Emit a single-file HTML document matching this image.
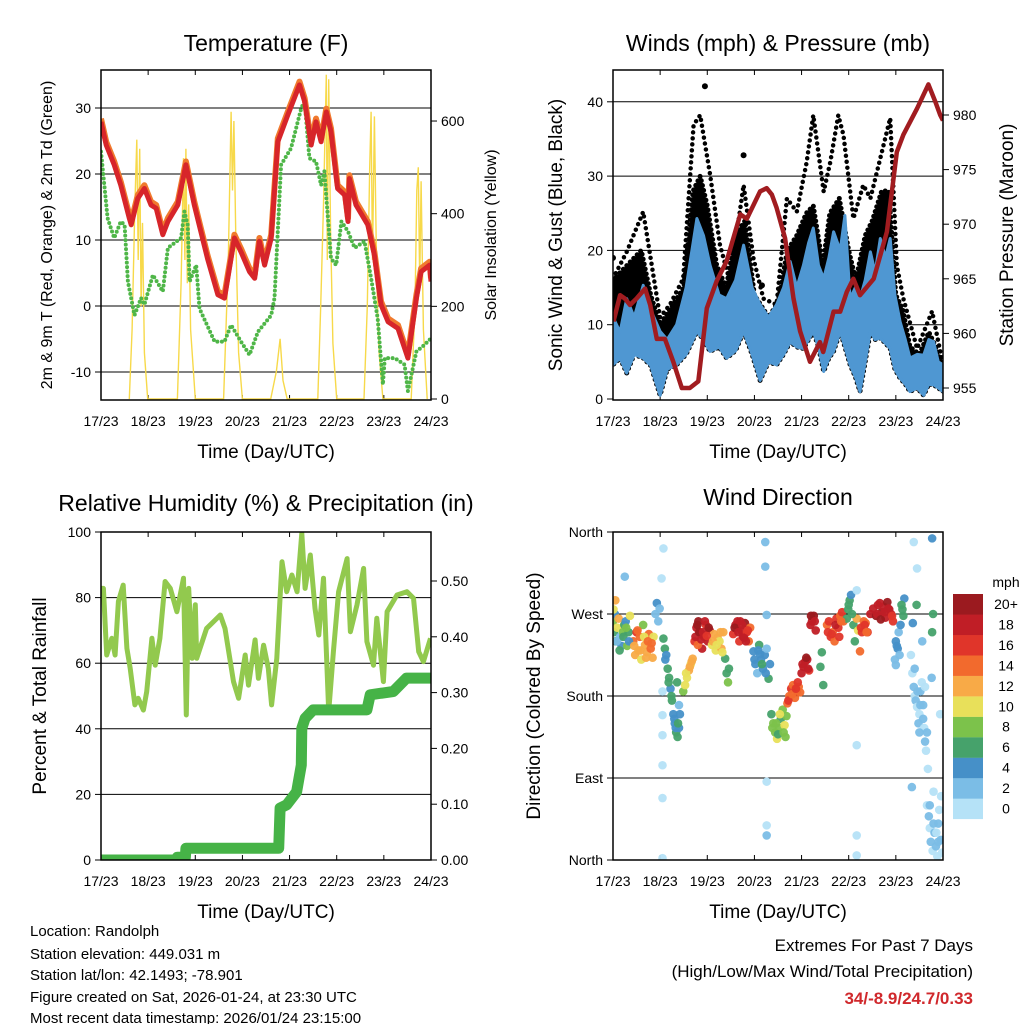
<!DOCTYPE html>
<html><head><meta charset="utf-8"><style>
body{margin:0;background:#fff}
svg{display:block;font-family:"Liberation Sans",Arial,sans-serif}
</style></head><body>
<svg id="s" width="1024" height="1024" viewBox="0 0 1024 1024">
<defs>
<clipPath id="c1"><rect x="101" y="70" width="330" height="330"/></clipPath>
<clipPath id="c2"><rect x="613" y="70" width="330" height="330"/></clipPath>
<clipPath id="c3"><rect x="101" y="532" width="330" height="328"/></clipPath>
<clipPath id="c4"><rect x="613" y="532" width="330" height="328"/></clipPath>
</defs>
<g font-size="23" text-anchor="middle" fill="#000">
<text x="266" y="51">Temperature (F)</text>
<text x="778" y="51">Winds (mph) &amp; Pressure (mb)</text>
<text x="266" y="511">Relative Humidity (%) &amp; Precipitation (in)</text>
<text x="778" y="505">Wind Direction</text>
</g>
<g font-size="19" text-anchor="middle">
<text x="266" y="458">Time (Day/UTC)</text>
<text x="778" y="458">Time (Day/UTC)</text>
<text x="266" y="918">Time (Day/UTC)</text>
<text x="778" y="918">Time (Day/UTC)</text>
<text transform="translate(52,235) rotate(-90)" font-size="16">2m &amp; 9m T (Red, Orange) &amp; 2m Td (Green)</text>
<text transform="translate(496,235) rotate(-90)" font-size="16">Solar Insolation (Yellow)</text>
<text transform="translate(562,235) rotate(-90)">Sonic Wind &amp; Gust (Blue, Black)</text>
<text transform="translate(1013,235) rotate(-90)">Station Pressure (Maroon)</text>
<text transform="translate(46,696) rotate(-90)">Percent &amp; Total Rainfall</text>
<text transform="translate(540,696) rotate(-90)">Direction (Colored By Speed)</text>
</g>
<g font-size="15">
<text x="30" y="936">Location: Randolph</text>
<text x="30" y="959">Station elevation: 449.031 m</text>
<text x="30" y="980">Station lat/lon: 42.1493; -78.901</text>
<text x="30" y="1002">Figure created on Sat, 2026-01-24, at 23:30 UTC</text>
<text x="30" y="1023">Most recent data timestamp: 2026/01/24 23:15:00</text>
</g>
<g font-size="17" text-anchor="end">
<text x="973" y="951">Extremes For Past 7 Days</text>
<text x="973" y="977">(High/Low/Max Wind/Total Precipitation)</text>
<text x="973" y="1004" fill="#d0282c" font-weight="bold">34/-8.9/24.7/0.33</text>
</g>
<g id="charts"></g>
</svg>
<script>
const dayLabels=["17/23","18/23","19/23","20/23","21/23","22/23","23/23","24/23"];
const tempTicks=[-10,0,10,20,30];
const solarTicks=[0,200,400,600];
const windTicks=[0,10,20,30,40];
const presTicks=[955,960,965,970,975,980];
const rhTicks=[0,20,40,60,80,100];
const rainTicks=[0,0.1,0.2,0.3,0.4,0.5];
const dirTicks=[0,90,180,270,360];
const dirLabels=["North","East","South","West","North"];
const tT=[0,0.11,0.28,0.42,0.60,0.64,0.78,0.92,1.06,1.17,1.31,1.42,1.63,1.80,1.98,2.26,2.48,2.62,2.83,2.97,3.15,3.26,3.36,3.47,3.61,3.75,3.96,4.21,4.32,4.46,4.56,4.67,4.78,4.88,5.02,5.17,5.24,5.27,5.41,5.66,5.80,5.94,6.09,6.30,6.51,6.69,6.79,6.97,7.0];
const tRed=[27.9,24.4,21.4,18.3,13.3,12.3,16.3,17.8,15.3,14.8,10.8,12.8,15.3,21.4,15.3,7.2,1.7,1.2,10.3,8.2,5.2,4.2,9.8,6.2,10.3,24.9,28.9,33.5,31.0,24.4,27.9,24.9,29.4,26.4,17.8,16.8,12.8,19.3,15.3,12.3,7.7,0.2,-2.4,-3.4,-7.9,1.2,5.2,6.2,3.7];
const tdT=[0,0.14,0.28,0.42,0.50,0.57,0.71,0.85,0.92,1.10,1.31,1.42,1.70,1.77,1.84,1.88,2.02,2.09,2.41,2.62,2.76,2.97,3.15,3.33,3.61,3.68,3.82,4.03,4.25,4.32,4.42,4.56,4.67,4.74,4.88,4.99,5.10,5.24,5.38,5.59,5.73,5.87,5.98,6.02,6.23,6.44,6.51,6.69,6.86,7.0];
const tdV=[23.4,13.3,10.3,12.8,12.3,3.7,-1.4,1.2,0.2,4.7,2.2,8.8,10.3,14.3,12.3,3.7,6.2,-0.4,-5.4,-5.4,-2.9,-5.4,-7.4,-3.9,-1.4,1.2,21.4,23.9,30.0,31.0,22.4,21.9,18.3,20.4,7.2,6.2,12.8,11.3,8.8,9.8,4.2,-1.9,-11.9,-7.9,-7.9,-8.9,-12.9,-6.9,-5.9,-4.9];
const solT=[0.60,0.66,0.72,0.76,0.79,0.82,0.85,0.88,0.92,0.99,1.62,1.70,1.75,1.78,1.80,1.83,1.86,1.90,2.0,2.60,2.70,2.76,2.79,2.82,2.86,2.92,3.0,3.60,3.72,3.80,3.86,3.95,4.60,4.66,4.72,4.78,4.80,4.83,4.87,4.92,5.0,5.58,5.65,5.70,5.73,5.76,5.80,5.85,5.90,5.98,6.58,6.66,6.70,6.73,6.76,6.79,6.84,6.92];
const solV=[0,150,420,560,300,540,200,380,100,0,0,250,520,300,540,250,420,150,0,0,300,620,450,600,350,100,0,0,60,130,40,0,0,200,420,700,300,690,360,120,0,0,200,500,620,300,610,250,100,0,0,200,450,500,250,470,150,0];
const pT=[0.01,0.15,0.25,0.36,0.50,0.68,0.79,0.93,1.10,1.28,1.46,1.63,1.81,1.99,2.20,2.41,2.70,2.84,3.12,3.26,3.37,3.47,3.65,3.83,3.97,4.18,4.39,4.46,4.68,4.82,4.96,5.10,5.24,5.53,5.81,6.02,6.16,6.45,6.69,6.84,6.94,7.0];
const pV=[961.1,963.5,963.2,962.6,963.2,964.1,962.6,959.5,959.5,957.4,955.0,955.0,955.6,962.3,964.8,966.6,970.9,970.5,973.0,973.3,972.7,971.5,968.7,963.2,960.2,957.4,959.2,958.3,962.0,962.0,963.8,965.0,963.5,965.0,969.3,976.6,978.2,980.6,982.8,981.2,980.0,979.5];
const wT=[0,0.15,0.29,0.45,0.64,0.8,1.0,1.15,1.35,1.55,1.78,1.92,2.06,2.25,2.41,2.6,2.77,2.95,3.12,3.3,3.47,3.62,3.76,3.9,4.04,4.15,4.25,4.36,4.47,4.58,4.68,4.82,4.92,5.03,5.14,5.24,5.35,5.46,5.56,5.67,5.78,5.88,5.98,6.09,6.2,6.30,6.45,6.59,6.70,6.80,6.9,7.0];
const wLow=[4.6,5.5,3.5,6,5.5,4.5,0.5,4,4.6,6,9.1,8,6.4,7,5.5,6.5,9.1,6,2.5,5,4.6,6,7.7,7,6.8,8,9.1,7,3.7,5.5,6.4,9.1,7,4.6,3,1,5,9.1,8,8.2,7.5,6.8,4,2.8,2,1,1.5,0.5,2,1.9,1.5,1.0];
const wHigh=[11.0,9,13.5,11,15.3,12,9.1,8,10.0,15,24.3,22,18.0,14,13.5,16,20.7,15,12.7,11,12.7,15,18.5,15,18.0,21,23.0,18,16.2,19,22.5,20,24.7,13.5,15,13.5,16,19.8,17,21.6,19,21.6,14,10.4,8,5.5,6,5.9,8,7.7,5,4.6];
const gmT=[0,0.3,0.6,0.8,1.0,1.3,1.5,1.7,1.85,2.0,2.2,2.4,2.6,2.8,3.0,3.3,3.5,3.7,3.9,4.1,4.25,4.45,4.6,4.8,5.0,5.15,5.35,5.5,5.7,5.85,6.0,6.15,6.3,6.5,6.7,6.85,7.0];
const gMid=[16,18,20,14,10,13,15,28,30,26,18,15,22,24,14,11,13,20,22,25,26,18,25,27,20,16,22,24,28,28,14,12,7,6,9,7,4];
const gT=[0,0.29,0.64,1.0,1.21,1.49,1.71,1.85,2.06,2.27,2.48,2.77,2.98,3.19,3.47,3.69,3.90,4.11,4.25,4.47,4.61,4.78,4.89,5.10,5.31,5.46,5.74,5.88,6.02,6.16,6.45,6.77,7.0];
const gTop=[16.2,19.8,25.2,11.0,12.7,16.2,36.9,38.2,30.2,20.7,15.8,28.8,18.9,13.5,12.7,27.0,25.2,31.9,38.2,27.9,31.9,38.2,35.5,24.3,28.8,27.0,34.2,37.8,18.0,13.5,6.8,11.8,4.6];
const gOutT=[1.95,2.77,3.16,0.0];
const gOutV=[42.1,32.8,15.3,19];
const rhT=[0,0.05,0.12,0.23,0.30,0.37,0.47,0.55,0.62,0.72,0.79,0.90,0.97,1.08,1.15,1.25,1.36,1.47,1.61,1.75,1.81,1.86,1.93,2.00,2.03,2.24,2.39,2.53,2.63,2.81,2.92,3.06,3.13,3.27,3.34,3.45,3.55,3.62,3.73,3.84,3.94,4.05,4.16,4.26,4.33,4.44,4.54,4.62,4.72,4.83,4.93,5.04,5.22,5.29,5.43,5.57,5.64,5.78,5.85,5.99,6.07,6.28,6.49,6.63,6.74,6.84,6.99];
const rhV=[82.8,82.8,62.5,67.6,62.5,78.8,83.8,64.5,58.4,47.3,49.3,45.7,51.3,67.6,59.4,67.6,84.9,82.8,75.7,85.9,44.2,82.8,61.5,77.8,61.5,70.6,72.7,74.7,70.6,54.4,49.3,62.5,53.3,67.1,55.4,65.5,58.4,47.3,61.5,90.9,81.8,86.9,81.8,99.6,82.8,93.0,76.7,68.6,85.9,45.2,63.5,81.8,91.9,69.6,77.8,88.9,66.6,59.4,73.7,54.4,75.7,80.8,81.8,79.8,63.5,60.5,67.6];
const rainT=[0,1.60,1.62,1.79,1.80,3.77,3.80,3.94,4.15,4.25,4.26,4.33,4.50,5.64,5.71,6.20,6.48,7.0];
const rainV=[0,0,0.005,0.005,0.021,0.021,0.093,0.099,0.122,0.17,0.236,0.254,0.269,0.269,0.296,0.302,0.326,0.326];
const wdT=[0,0.02,0.04,0.06,0.09,0.12,0.15,0.18,0.21,0.24,0.27,0.30,0.33,0.36,0.25,
0.43,0.47,0.50,0.54,0.57,0.60,0.64,0.68,0.72,0.76,0.80,0.84,0.86,
0.90,0.93,0.96,0.99,
1.07,1.10,1.13,1.16,1.19,1.22,1.25,1.28,1.31,1.34,1.37,1.40,1.42,1.40,1.36,
1.49,1.53,1.57,1.61,1.65,1.69,
1.73,1.77,1.81,1.85,1.89,1.93,1.97,2.01,2.05,1.80,1.88,1.95,
2.10,2.14,2.18,2.22,2.26,2.30,2.34,
2.38,2.41,2.44,2.46,
2.55,2.60,2.64,2.68,2.72,2.76,2.80,2.84,2.88,2.91,2.70,2.78,
2.98,3.02,3.06,3.10,3.14,3.18,3.22,3.26,3.30,3.33,3.12,
3.36,3.40,3.44,3.48,3.52,3.56,3.60,3.64,3.68,3.50,
3.70,3.74,3.78,3.82,3.86,3.90,3.94,3.97,
4.00,4.04,4.08,4.12,4.16,4.19,4.22,4.26,4.30,
4.40,4.43,4.46,
4.54,4.58,4.62,4.66,4.70,4.74,4.78,4.82,4.86,4.89,
4.96,4.99,5.02,5.05,5.10,5.13,5.17,5.20,
5.24,5.28,5.32,5.36,5.40,
5.46,5.52,5.58,5.62,5.66,5.70,5.74,5.78,5.82,5.86,5.90,5.94,
5.98,6.02,6.06,6.10,6.00,6.04,6.16,6.18,6.14,
6.32,6.35,6.38,6.40,6.42,6.45,6.48,6.50,6.52,6.55,6.58,6.60,6.62,6.64,6.66,6.70,6.72,6.74,6.78,6.80,6.82,6.85,6.88,6.90,6.92,6.95,6.98,6.36,6.44,6.56,6.68,6.76,6.94,6.34,6.50,6.62,6.86,6.77,6.79,
1.07,1.03,1.05,1.05,1.05,1.05,1.05,1.05,3.23,3.23,3.26,3.26,3.26,3.26,5.17,5.17,5.17,5.17,6.38,6.77,6.45,
0.01,0.05,0.08,0.14,0.22,0.28,0.34,0.45,0.52,0.58,0.66,0.70,0.74,0.82,1.11,1.18,1.24,1.30,1.33,1.38,1.55,1.63,1.67,1.75,1.79,1.83,1.87,1.91,1.99,2.03,2.12,2.20,2.28,2.32,2.58,2.66,2.74,2.82,2.86,3.00,3.08,3.16,3.24,3.38,3.46,3.54,3.62,3.66,3.72,3.80,3.88,3.92,4.02,4.10,4.14,4.20,4.28,4.56,4.64,4.72,4.80,4.84,5.00,5.07,5.26,5.34,5.38,5.60,5.68,5.76,5.84,5.92,6.00,6.08,6.12,6.40,6.46,6.52,6.58,6.66,6.72,6.80,6.90,6.96];
const wdD=[262,250,270,240,255,265,245,235,250,258,262,235,250,268,311,
240,225,250,230,245,220,258,236,228,248,232,222,245,
270,282,262,276,
243,232,225,210,200,188,175,160,150,140,135,145,160,170,195,
185,192,200,208,215,221,
240,255,262,250,232,245,258,240,252,236,248,262,
236,248,230,244,240,232,250,
221,205,195,210,
248,258,262,240,252,245,260,250,240,255,262,244,
229,215,205,236,220,210,225,232,199,215,226,
160,150,140,133,145,155,165,148,158,138,
172,180,188,192,178,185,190,184,
205,212,218,220,208,258,262,268,252,
212,228,192,
258,262,245,250,240,265,255,268,272,262,
265,275,285,291,258,240,265,252,
229,250,262,260,250,
270,276,268,280,282,272,278,266,283,275,270,262,
220,235,250,258,214,232,268,287,275,
225,205,190,180,175,168,150,160,185,195,170,145,130,120,60,48,35,20,10,75,30,15,4,40,55,22,8,260,280,240,100,200,160,80,140,190,30,250,270,
342,309,185,159,137,104,68,2,349,322,269,86,38,27,296,126,27,5,349,353,320,
275,285,240,230,245,255,240,235,252,230,245,222,240,238,220,195,180,155,145,150,205,212,218,245,258,250,242,250,246,255,240,236,250,228,255,250,258,240,252,220,230,215,205,145,150,160,140,135,175,182,188,195,215,222,210,268,262,250,248,258,245,262,280,270,255,258,250,270,264,272,276,268,240,225,280,210,185,170,155,140,60,40,20,70];
const wdS=[8,6,4,7,10,12,3,5,8,6,4,9,7,11,3,
14,12,16,13,15,11,9,12,13,14,15,12,10,
3,4,3,2,
6,7,5,6,7,5,6,4,5,7,6,4,5,3,6,
9,10,11,12,11,13,
17,19,20,18,19,17,16,18,19,14,20,18,
11,13,10,12,11,13,12,
7,6,8,7,
17,18,19,16,18,19,20,17,15,14,18,19,
4,5,3,6,5,4,5,3,6,4,5,
7,8,9,10,8,7,9,10,8,6,
15,14,16,15,14,16,15,14,
18,19,19,18,17,19,18,20,19,
7,6,7,
15,16,17,15,14,16,17,15,16,14,
6,7,6,5,7,6,12,11,
15,16,14,15,16,
18,19,20,18,19,20,18,19,20,18,19,17,
3,4,3,4,3,4,6,5,6,
1,1,2,1,3,1,2,1,2,1,3,1,2,1,1,3,1,2,1,1,2,3,1,2,1,2,1,5,6,3,1,2,1,3,2,1,1,6,7,
1,1,1,1,1,1,1,1,2,3,2,1,1,3,1,1,1,1,1,4,1,
10,12,3,6,7,8,5,13,14,12,10,13,15,14,5,7,6,5,4,6,11,12,13,19,20,21,18,19,17,20,12,11,13,10,20,19,18,19,17,4,5,6,4,8,9,10,8,9,16,15,16,17,19,20,18,20,19,16,17,18,16,15,6,7,16,17,14,18,20,19,18,17,4,3,6,2,3,2,3,2,2,3,2,1];
const binColors=["#b5e2f7","#7bbde6","#4690c8","#46a26b","#7cc24b","#e8e05a","#f8aa47","#f26a2d","#e0352a","#c01e26","#9b1a1f"];
const binLabels=["0","2","4","6","8","10","12","14","16","18","20+"];

const NS="http://www.w3.org/2000/svg";
const root=document.getElementById('charts');
function mk(tag,attrs,parent){const e=document.createElementNS(NS,tag);for(const k in attrs)e.setAttribute(k,attrs[k]);(parent||root).appendChild(e);return e;}
const xA=d=>101+d*47.14, xB=d=>613+d*47.14;
const yT=v=>306-v*6.6, yS=v=>399-v*0.4633;
const yW=v=>399-v*7.43, yP=v=>388-(v-955)*10.92;
const yR=v=>860-v*3.28, yQ=v=>860-v*558;
const yD=v=>860-v*328/360;
function pts(ts,vs,fx,fy){return ts.map((t,i)=>fx(t).toFixed(1)+','+fy(vs[i]).toFixed(1)).join(' ');}
function band(tsA,top,tsB,bot,fx,fy){return tsA.map((t,i)=>fx(t).toFixed(1)+','+fy(top[i]).toFixed(1)).concat(tsB.map((t,i)=>fx(t).toFixed(1)+','+fy(bot[i]).toFixed(1)).reverse()).join(' ');}

function frame(x0,y0,h,fy,ticks,labels,fyR,rticks,rlabels,name){
  const g=mk('g',{});
  
  
  ticks.forEach((v,i)=>{
    const y=fy(v);
    if(y>y0+2&&y<y0+h-2){const l=mk('line',{x1:x0,x2:x0+330,y1:y,y2:y,stroke:'#000','stroke-width':1},g);
    
    }
    mk('line',{x1:x0,x2:x0-6,y1:y,y2:y,stroke:'#000'},g);
    const t=mk('text',{x:x0-10,y:y+5,'font-size':14,'text-anchor':'end'},g);
    t.textContent=labels[i];
    
    
  });
  if(fyR){rticks.forEach((v,i)=>{const y=fyR(v);
    mk('line',{x1:x0+330,x2:x0+336,y1:y,y2:y,stroke:'#000'},g);
    const t=mk('text',{x:x0+340,y:y+5,'font-size':14},g);
    t.textContent=rlabels[i];
    
    });}
  dayLabels.forEach((s,i)=>{const x=x0+i*47.14;
    mk('line',{x1:x,x2:x,y1:y0,y2:y0+5,stroke:'#000'},g);
    mk('line',{x1:x,x2:x,y1:y0+h,y2:y0+h-5,stroke:'#000'},g);
    const t=mk('text',{x:x,y:y0+h+26,'font-size':14,'text-anchor':'middle'},g);
    t.textContent=s;
    
    });
  return g;
}
function border(x0,y0,h){const r=mk('rect',{x:x0,y:y0,width:330,height:h,fill:'none',stroke:'#000','stroke-width':1.5});
  
  }

// Panel 1: temperature
frame(101,70,330,yT,tempTicks,tempTicks.map(String),yS,solarTicks,solarTicks.map(String),'temperature');
let g1=mk('g',{'clip-path':'url(#c1)'});


let e;
e=mk('polyline',{points:pts(solT,solV,xA,yS),fill:'none',stroke:'#f7d94a','stroke-width':1.4},g1);


e=mk('polyline',{points:pts(tdT,tdV,xA,yT),fill:'none',stroke:'#4fb648','stroke-width':4,'stroke-dasharray':'0 4.5','stroke-linecap':'round'},g1);


e=mk('polyline',{points:pts(tT,tRed.map(v=>v+0.5),xA,yT),fill:'none',stroke:'#f07a2e','stroke-width':6,'stroke-linejoin':'round'},g1);


e=mk('polyline',{points:pts(tT,tRed,xA,yT),fill:'none',stroke:'#d7252a','stroke-width':5,'stroke-linejoin':'round'},g1);


border(101,70,330);

// Panel 2: winds
frame(613,70,330,yW,windTicks,windTicks.map(String),yP,presTicks,presTicks.map(String),'winds');
let g2=mk('g',{'clip-path':'url(#c2)'});


e=mk('polyline',{points:pts(gT,gTop,xB,yW),fill:'none',stroke:'#000','stroke-width':4.5,'stroke-dasharray':'0 6','stroke-linecap':'round'},g2);


e=mk('polygon',{points:band(gmT,gMid,wT,wLow,xB,yW),fill:'#000',stroke:'#000','stroke-width':5,'stroke-linejoin':'round','stroke-dasharray':'0 5','stroke-linecap':'round'},g2);


gOutT.forEach((t,i)=>{e=mk('circle',{cx:xB(t),cy:yW(gOutV[i]),r:3,fill:'#000'},g2);

});
e=mk('polygon',{points:band(wT,wHigh,wT,wLow,xB,yW),fill:'#4f97d2',stroke:'#4f97d2','stroke-width':3,'stroke-linejoin':'round'},g2);


e=mk('polyline',{points:pts(pT,pV,xB,yP),fill:'none',stroke:'#a11c20','stroke-width':4.5,'stroke-linejoin':'round'},g2);


border(613,70,330);

// Panel 3: RH & precip
frame(101,532,328,yR,rhTicks,rhTicks.map(String),yQ,rainTicks,rainTicks.map(v=>v.toFixed(2)),'humidity');
let g3=mk('g',{'clip-path':'url(#c3)'});


e=mk('polyline',{points:pts(rhT,rhV,xA,yR),fill:'none',stroke:'#92c94e','stroke-width':5,'stroke-linejoin':'round'},g3);


e=mk('polyline',{points:pts(rainT,rainV,xA,yQ),fill:'none',stroke:'#46b347','stroke-width':11,'stroke-linejoin':'round','stroke-linecap':'round'},g3);


border(101,532,328);

// Panel 4: wind direction
frame(613,532,328,yD,dirTicks,dirLabels,null,null,null,'direction');
let g4=mk('g',{'clip-path':'url(#c4)'});


wdT.forEach((t,i)=>{const b=Math.min(10,Math.floor(wdS[i]/2));
  e=mk('circle',{cx:xB(t),cy:yD(wdD[i]),r:4.3,fill:binColors[b],opacity:0.95},g4);
  
  });
border(613,532,328);
// colorbar
const cb=mk('g',{});


binColors.forEach((c,i)=>{const y=594+(10-i)*20.45;
  mk('rect',{x:953,y:y,width:30,height:20.6,fill:c},cb);
  const t=mk('text',{x:1006,y:y+15,'font-size':14,'text-anchor':'middle'},cb);
  t.textContent=binLabels[i];
  
  });
const mu=mk('text',{x:1006,y:587,'font-size':14,'text-anchor':'middle'},cb);
mu.textContent='mph';


</script>
</body></html>
